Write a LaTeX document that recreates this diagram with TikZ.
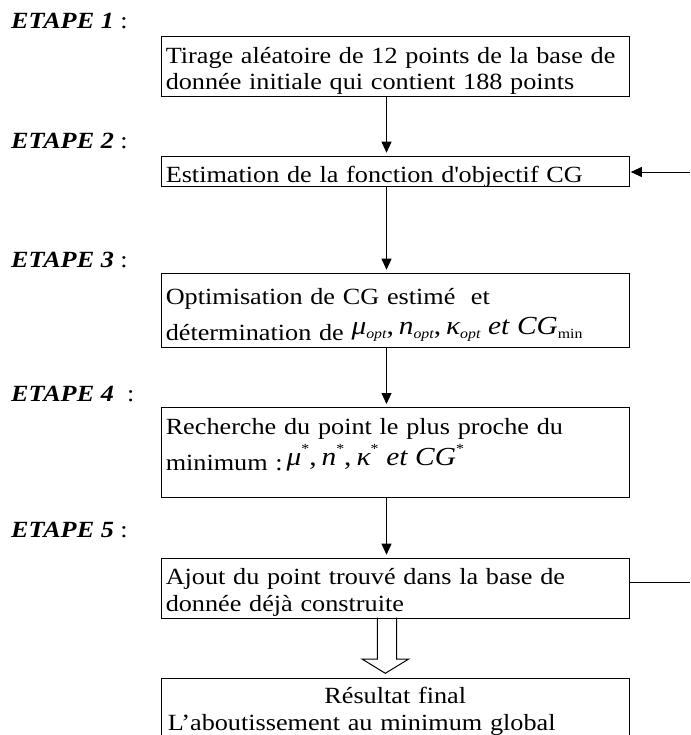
\documentclass[tikz,border=0pt]{standalone}
\usepackage{fontspec}
\setmainfont{Liberation Serif}[FakeStretch=1.13]
\usetikzlibrary{arrows.meta}
% text size of the boxes, fixed line pitch, no hyphens
\newcommand{\boxfont}{\fontsize{23.2}{26.7}\selectfont\setlength{\lineskiplimit}{-100pt}%
  \hyphenpenalty=10000\exhyphenpenalty=10000\relax}
% equation pieces
\newcommand{\eqv}[1]{{\fontsize{26}{26}\selectfont\itshape #1}}
\newcommand{\eqr}[1]{{\fontsize{26}{26}\selectfont #1\hspace{5pt}}}
\newcommand{\eqsub}[1]{\raisebox{-4pt}{\fontsize{14}{14}\selectfont\itshape #1}}
\newcommand{\eqsubr}[1]{\raisebox{-4pt}{\fontsize{14}{14}\selectfont #1}}
\newcommand{\eqstar}{\raisebox{12pt}{\fontsize{14}{14}\selectfont *}}
\tikzset{
  >={Triangle[length=11pt,width=10pt]},
  stepbox/.style={draw,line width=1.1pt,anchor=north west,inner xsep=4.5pt,inner ysep=0pt,
    text width=459pt,align=left},
  etape/.style={anchor=base west,inner sep=0pt},
  flow/.style={->,line width=0.9pt,shorten >=3pt},
  hollow/.style={draw,line width=1pt},
}
\begin{document}
\begin{tikzpicture}[x=1pt,y=-1pt,font=\boxfont]
    \clip (0,0) rectangle (690,735);
    \node[etape] (e1) at (11,29) {\textbf{\textit{ETAPE 1}} :};
    \node[etape] (e2) at (11,149) {\textbf{\textit{ETAPE 2}} :};
    \node[etape] (e3) at (11,267) {\textbf{\textit{ETAPE 3}} :};
    \node[etape] (e4) at (11,401) {\textbf{\textit{ETAPE 4}}\ \ :};
    \node[etape] (e5) at (11,537) {\textbf{\textit{ETAPE 5}} :};
    \node[stepbox,text height=27pt,text depth=33pt] (b1) at (160.7,35.7)
      {Tirage aléatoire de 12 points de la base de donnée initiale qui contient 188 points};
    \node[stepbox,text height=26.7pt,text depth=3.3pt] (b2) at (160.7,155.7)
      {Estimation de la fonction d\textquotesingle objectif CG};
    \node[stepbox,text height=31pt,text depth=43pt] (b3) at (160.7,272.7)
      {Optimisation de CG estimé\ \ et\\[9.8pt]
       détermination de\ \raisebox{6pt}{\eqv{μ}\eqsub{opt}\eqr{,}\eqv{n}\eqsub{opt}\eqr{,}\eqv{κ}\eqsub{opt}\eqv{ et CG}\eqsubr{min}}};
    \node[stepbox,text height=27pt,text depth=62.7pt] (b4) at (160.7,407)
      {Recherche du point le plus proche du\\[9.3pt]
       minimum :\,\raisebox{5pt}{\eqv{μ}\eqstar\eqr{,}\eqv{n}\eqstar\eqr{,}\eqv{κ}\eqstar\eqv{ et CG}\eqstar}};
    \node[stepbox,text height=26.6pt,text depth=33.4pt] (b5) at (160.7,557.7)
      {Ajout du point trouvé dans la base de donnée déjà construite};
    \node[stepbox,text height=25.6pt,text depth=60pt] (b6) at (160.7,677.7)
      {{\centering Résultat final\par}\hspace*{2pt}L’aboutissement au minimum global};
    \coordinate (axis) at (386.5,0);
    \coordinate (backout) at (690,582);
    \coordinate (backin) at (690,172);
    \draw[flow] (b1.south -| axis) -- (b2.north -| axis);
    \draw[flow] (b2.south -| axis) -- (b3.north -| axis);
    \draw[flow] (b3.south -| axis) -- (b4.north -| axis);
    \draw[flow] (b4.south -| axis) -- (b5.north -| axis);
    \draw[line width=0.9pt] (b5.east |- backout) -- (backout);
    \draw[flow,shorten >=1pt] (backin) -- (b2.east |- backin);
    \draw[hollow] (377.3,617.7) -- (377.3,659) -- (362,659) -- (385.3,673.3)
      -- (408.7,659) -- (396.7,659) -- (396.7,617.7);
\end{tikzpicture}
\end{document}
